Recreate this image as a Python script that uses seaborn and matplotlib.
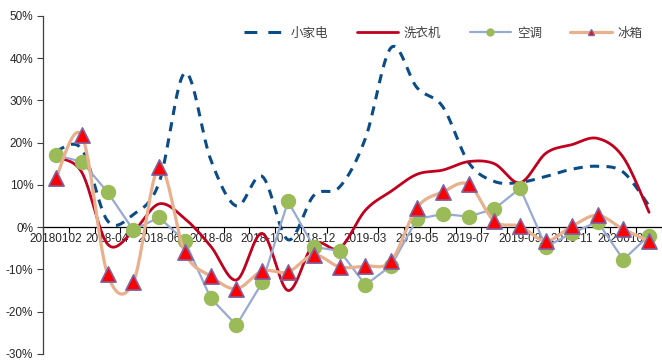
import numpy as np
import pandas as pd
import seaborn as sns
import matplotlib
matplotlib.use("Agg")
import matplotlib.pyplot as plt
from matplotlib.lines import Line2D

# Monthly year-on-year growth (%) by appliance category
categories = ["20180102", "2018-03", "2018-04", "2018-05", "2018-06", "2018-07",
              "2018-08", "2018-09", "2018-10", "2018-11", "2018-12", "20190102",
              "2019-03", "2019-04", "2019-05", "2019-06", "2019-07", "2019-08",
              "2019-09", "2019-10", "2019-11", "2019-12", "20200102", "2020-03"]

small_appliance = [18, 18.5, 1.5, 3, 10.5, 36.5, 16, 5, 12, -3, 7.5, 9.5,
                   21, 42.5, 33, 28.5, 15.3, 10.8, 10.6, 12, 13.7, 14.4, 13, 5]
washer = [16.5, 13, -4, -1, 5.5, 2, -4.5, -12.5, -1.5, -15, -4, -5,
          4, 8.5, 12.5, 13.5, 15.5, 15, 10.5, 17.5, 19.5, 21, 16.5, 3.5]
aircon = [17, 15.5, 8.3, -0.7, 2.3, -3.3, -16.8, -23.2, -13.1, 6.1, -4.7, -5.6,
          -13.7, -9.1, 1.9, 3.1, 2.5, 4.3, 9.2, -4.6, -1.5, 1.3, -7.7, -2]
fridge = [11.6, 21.7, -11.1, -13, 14.2, -6, -11.6, -14.6, -10.4, -10.6, -6.6, -9.4,
          -9.2, -8, 4.6, 8.3, 10.1, 1.4, 0.2, -3.3, 0.2, 2.8, -0.5, -3.3]

series_names = ["小家电", "洗衣机", "空调", "冰箱"]
y_ticks = [-30, -20, -10, 0, 10, 20, 30, 40, 50]

df = pd.DataFrame({"month": categories, "小家电": small_appliance, "洗衣机": washer,
                   "空调": aircon, "冰箱": fridge})
df["pos"] = np.arange(len(df))


def smooth_curve(y, n=24):
    """Cubic Bezier smoothing through every point (Catmull-Rom style)."""
    y = np.asarray(y, float)
    pts = np.column_stack([np.arange(len(y), dtype=float), y])
    ext = np.vstack([pts[0], pts, pts[-1]])
    t = np.linspace(0, 1, n)[:, None]
    parts = []
    for i in range(len(y) - 1):
        p0, p1, p2, p3 = ext[i], ext[i + 1], ext[i + 2], ext[i + 3]
        c1 = p1 + (p2 - p0) / 6
        c2 = p2 - (p3 - p1) / 6
        seg = ((1 - t) ** 3) * p1 + 3 * ((1 - t) ** 2) * t * c1 \
            + 3 * (1 - t) * (t ** 2) * c2 + (t ** 3) * p2
        parts.append(seg if i == 0 else seg[1:])
    arr = np.vstack(parts)
    return arr[:, 0], arr[:, 1]


sns.set_style("white")
plt.rcParams["font.family"] = ["Liberation Sans", "Noto Sans CJK SC", "DejaVu Sans"]

BLUE = "#0b4c87"
RED = "#c0001e"
GREYBLUE = "#98a9d3"
GREEN = "#9bbb59"
TAN = "#e9b08e"
TRI_RED = "#ff0000"
TRI_EDGE = "#7f64a2"

fig = plt.figure(figsize=(6.62, 3.6), dpi=100)
ax = fig.add_axes([0.065, 0.017, 0.935, 0.939])

# 小家电: smoothed dashed line
sx, sy = smooth_curve(df["小家电"])
sns.lineplot(x=sx, y=sy, ax=ax, sort=False, estimator=None, color=BLUE,
             lw=2.2, zorder=2)
ax.lines[-1].set_linestyle((0, (3.0, 2.4)))

# 洗衣机: smoothed solid line
sx, sy = smooth_curve(df["洗衣机"])
sns.lineplot(x=sx, y=sy, ax=ax, sort=False, estimator=None, color=RED,
             lw=2.0, zorder=3)

# 空调: straight segments with round markers
sns.lineplot(data=df, x="pos", y="空调", ax=ax, sort=False, estimator=None,
             color=GREYBLUE, lw=1.6, zorder=4)
sns.scatterplot(data=df, x="pos", y="空调", ax=ax, marker="o", s=105,
                color=GREEN, edgecolor=GREEN, linewidth=0.8, zorder=5)

# 冰箱: smoothed line with triangle markers
sx, sy = smooth_curve(df["冰箱"])
sns.lineplot(x=sx, y=sy, ax=ax, sort=False, estimator=None, color=TAN,
             lw=2.3, zorder=6)
sns.scatterplot(data=df, x="pos", y="冰箱", ax=ax, marker="^", s=120,
                color=TRI_RED, edgecolor=TRI_EDGE, linewidth=1.2, zorder=7)

# Axes limits and ticks
ax.set_xlim(-0.5, len(categories) - 0.5)
ax.set_ylim(-30, 50)
ax.set_yticks(y_ticks)
ax.set_yticklabels([f"{v}%" for v in y_ticks])
ax.set_xticks(df["pos"][::2])
ax.set_xticklabels(df["month"][::2])
ax.set_xticks(np.arange(-0.5, len(categories) + 0.5, 1), minor=True)
ax.set_xlabel("")
ax.set_ylabel("")

for side in ("top", "right"):
    ax.spines[side].set_visible(False)
ax.spines["bottom"].set_position(("data", 0))
ax.spines["bottom"].set_color("#000000")
ax.spines["bottom"].set_linewidth(0.9)
ax.spines["bottom"].set_zorder(1.5)
ax.spines["left"].set_color("#3f3f3f")
ax.spines["left"].set_linewidth(0.9)

ax.tick_params(axis="y", which="major", direction="out", length=4, width=0.8,
               color="#3f3f3f", labelsize=8.5, labelcolor="#262626", pad=3, left=True)
ax.tick_params(axis="x", which="major", length=0, labelsize=8.5,
               labelcolor="#262626", pad=4, bottom=True)
ax.tick_params(axis="x", which="minor", direction="out", length=4, width=0.8,
               color="#000000", bottom=True)

# Legend across the top
handles = [
    Line2D([], [], color=BLUE, lw=2.2, linestyle=(0, (4.2, 3.6))),
    Line2D([], [], color=RED, lw=2.0),
    Line2D([], [], color=GREYBLUE, lw=1.6, marker="o", markersize=5,
           markerfacecolor=GREEN, markeredgecolor=GREEN),
    Line2D([], [], color=TAN, lw=2.3, marker="^", markersize=5,
           markerfacecolor=TRI_RED, markeredgecolor=TRI_EDGE, markeredgewidth=1),
]
fig.legend(handles, series_names, loc="center", bbox_to_anchor=(0.669, 0.908),
           ncol=4, frameon=False, handlelength=3.3, handletextpad=0.45,
           columnspacing=2.3,
           prop={"family": ["Noto Sans CJK SC", "DejaVu Sans"], "size": 9},
           labelcolor="#404040")

fig.savefig("out.png", dpi=100)
